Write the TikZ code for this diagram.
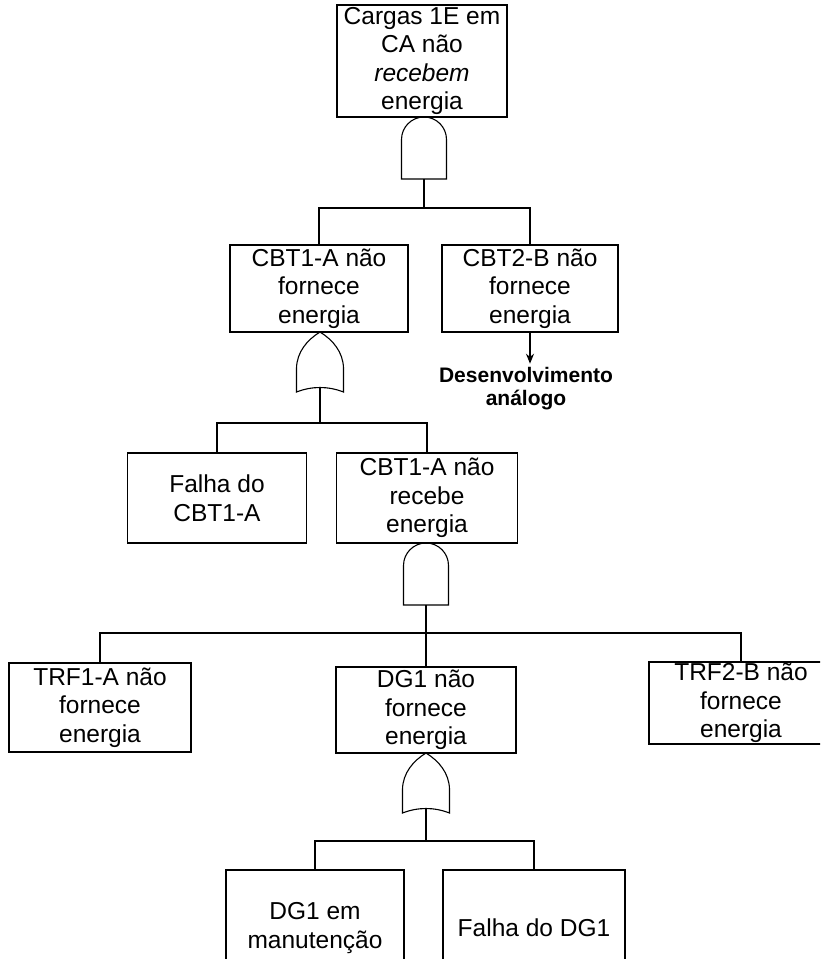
\documentclass[tikz,border=0pt]{standalone}
\usepackage{fontspec}
\setmainfont{Liberation Sans}
\usetikzlibrary{arrows.meta}
\tikzset{
  evento/.style={rectangle, draw=black, line width=1.1pt, align=center,
    inner sep=0pt, font=\fontsize{24.5}{28.5}\selectfont},
  ligacao/.style={line width=1.1pt},
  seta/.style={-{Stealth[length=10pt, width=8pt]}, line width=1.1pt},
  nota/.style={font=\fontsize{21}{23.5}\selectfont\bfseries, align=center,
    inner sep=3pt},
  portae/.pic={
    \draw[ligacao] (-22.5,-62) -- (-22.5,-22.5)
      arc[start angle=180, end angle=0, radius=22.5pt] -- (22.5,-62) -- cycle;
    \coordinate (-saida) at (0,-62);
  },
  portaou/.pic={
    \draw[ligacao] (0,0) .. controls (-13,-8) and (-23,-20) .. (-23.5,-36)
      -- (-23.5,-60) .. controls (-8,-54) and (8,-54) .. (23.5,-60)
      -- (23.5,-36) .. controls (23,-20) and (13,-8) .. (0,0) -- cycle;
    \coordinate (-saida) at (0,-55.5);
  }
}

\begin{document}
\begin{tikzpicture}[x=1pt, y=1pt]

\useasboundingbox (0,0) rectangle (820,-959);
\clip (0,0) rectangle (820,-959);

% Evento topo
\node[evento, minimum width=170pt, minimum height=112pt] (topo) at (422,-61)
  {Cargas 1E em\\CA não\\\textit{recebem}\\energia};

% Eventos intermediarios
\node[evento, minimum width=178pt, minimum height=87pt] (cbtA) at (319,-288.5) {CBT1-A não\\fornece\\energia};
\node[evento, minimum width=176pt, minimum height=87pt] (cbtB) at (530,-288.5) {CBT2-B não\\fornece\\energia};
\node[nota] (desenv) at (526,-388.5) {Desenvolvimento\\análogo};

\node[evento, minimum width=179pt, minimum height=90pt] (falhaCBT)  at (217,-498) {Falha do\\CBT1-A};
\node[evento, minimum width=181pt, minimum height=90pt] (recebeCBT) at (427,-498) {CBT1-A não\\recebe\\energia};

\node[evento, minimum width=182pt, minimum height=89pt] (trfA) at (100,-707.5) {TRF1-A não\\fornece\\energia};
\node[evento, minimum width=180pt, minimum height=86pt] (dg)   at (426,-710)   {DG1 não\\fornece\\energia};
\node[evento, minimum width=184pt, minimum height=82pt] (trfB) at (741,-703)   {TRF2-B não\\fornece\\energia};

% Eventos basicos
\node[evento, minimum width=178pt, minimum height=116pt] (dgManut) at (315,-928) {DG1 em\\manutenção};
\node[evento, minimum width=182pt, minimum height=116pt] (falhaDG) at (534,-928) {Falha do DG1};

% ── Porta E (topo) ──────────────────────────────────────
\pic (portaA) at (424,-117) {portae};
\coordinate (barraA) at (424,-208);
\draw[ligacao] (portaA-saida) -- (barraA);
\draw[ligacao] (cbtA.north) |- (barraA) -| (cbtB.north);
\draw[seta] (cbtB.south) -- (cbtB.south |- desenv.north);

% ── Porta OU (CBT1-A) ──────────────────────────────────────
\pic (portaB) at (320,-332) {portaou};
\coordinate (barraB) at (320,-423);
\draw[ligacao] (portaB-saida) -- (barraB);
\draw[ligacao] (falhaCBT.north) |- (barraB) -| (recebeCBT.north);

% ── Porta E (CBT1-A recebe) ──────────────────────────────────────
\pic (portaC) at (426,-543) {portae};
\coordinate (barraC) at (426,-633);
\draw[ligacao] (portaC-saida) -- (dg.north);
\draw[ligacao] (trfA.north) |- (barraC) -| (trfB.north);

% ── Porta OU (DG1) ──────────────────────────────────────
\pic (portaD) at (426,-753) {portaou};
\coordinate (barraD) at (426,-841);
\draw[ligacao] (portaD-saida) -- (barraD);
\draw[ligacao] (dgManut.north) |- (barraD) -| (falhaDG.north);

\end{tikzpicture}
\end{document}
